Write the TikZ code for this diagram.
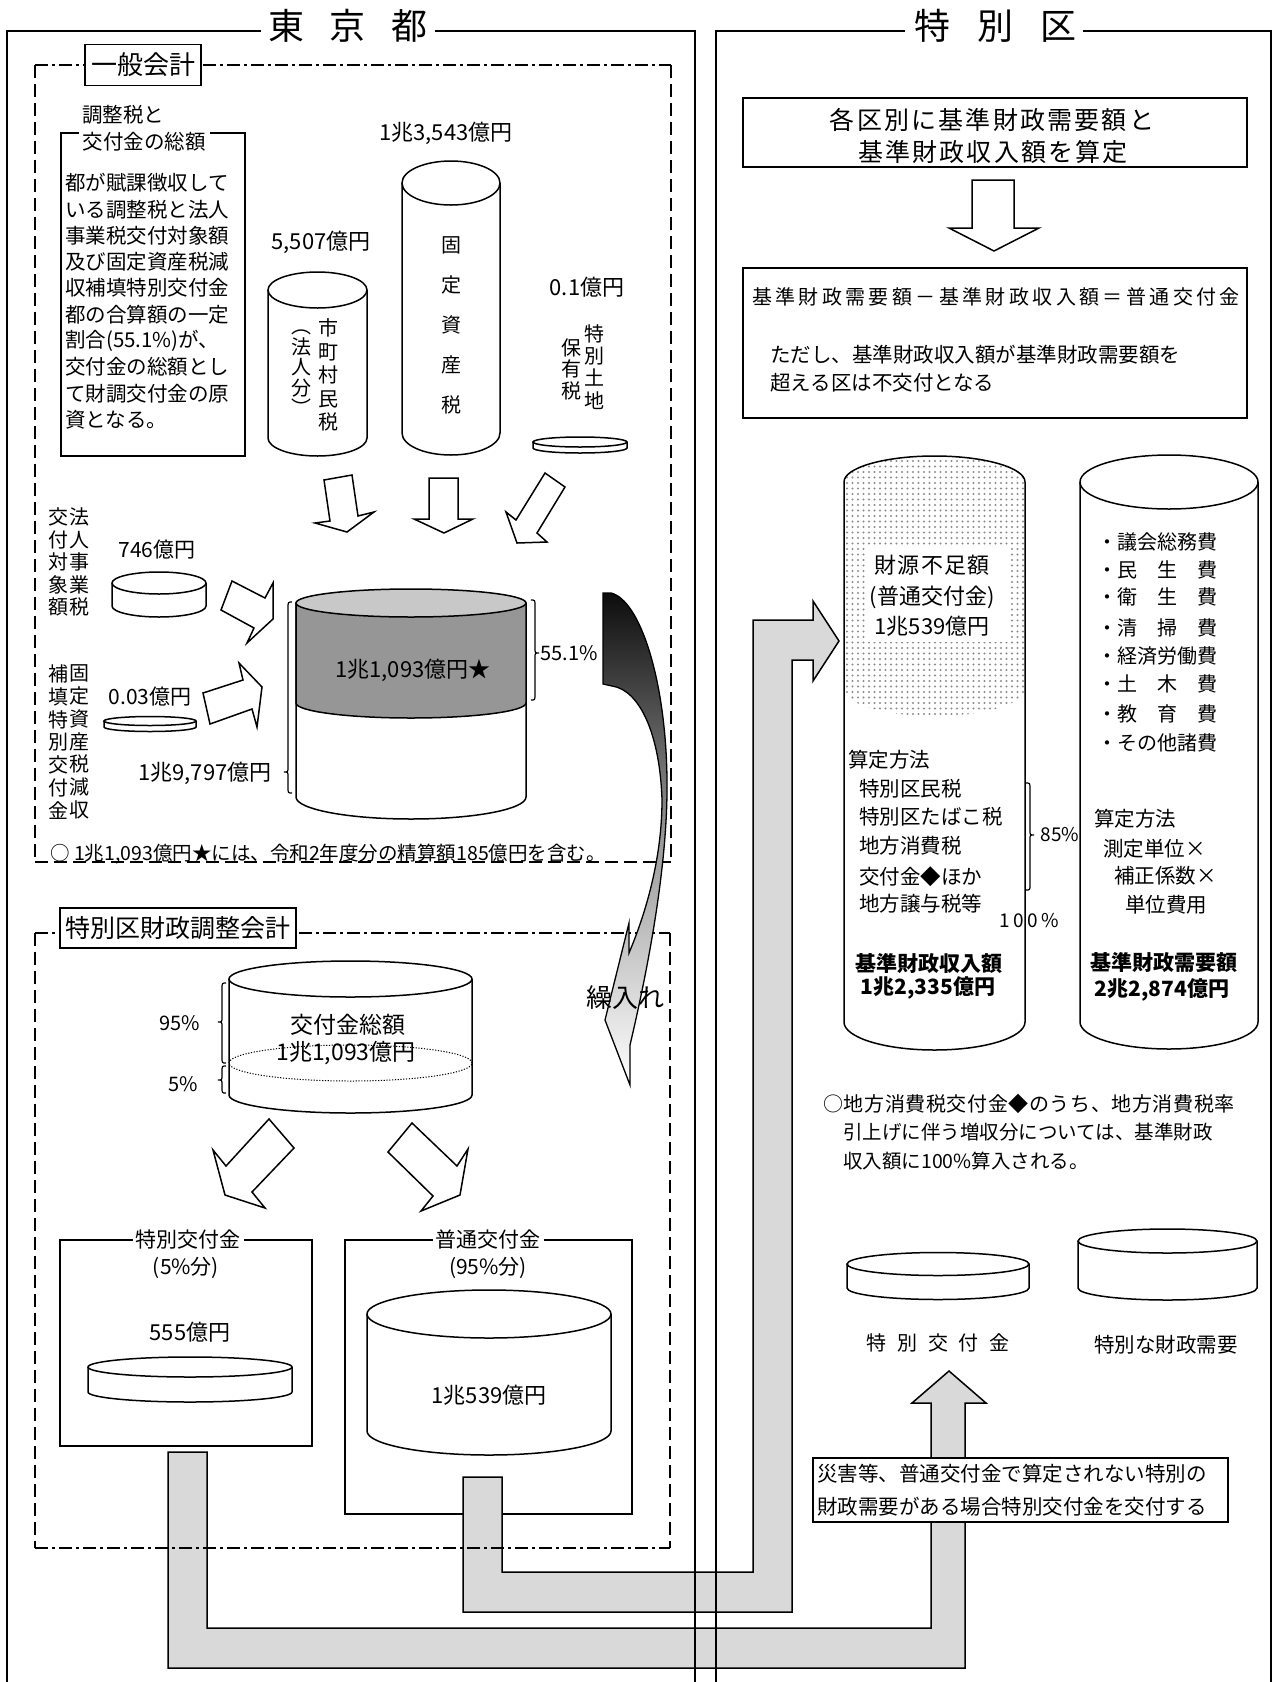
\documentclass[tikz,border=0pt]{standalone}
\usepackage{fontspec}
\setmainfont{Noto Sans CJK JP}
\usetikzlibrary{patterns.meta}
\newcommand\fz[1]{\fontsize{#1}{#1}\selectfont}
\def\lsp#1#2{\def\lspamt{#1}\lspx#2\relax}
\def\lspx#1{\ifx#1\relax\else#1\hspace{\lspamt}\expandafter\lspx\fi}
\definecolor{pathgray}{RGB}{217,217,217}
\definecolor{bandgray}{RGB}{150,150,150}
\definecolor{topgray}{RGB}{200,200,200}
\newcommand\brL[4]{\draw[brc] (#1,#2) .. controls (#1-4,#2) .. (#1-4,#2+6) -- (#1-4,#3-5) .. controls (#1-4,#3) .. (#1-8,#3) .. controls (#1-4,#3) .. (#1-4,#3+5) -- (#1-4,#4-6) .. controls (#1-4,#4) .. (#1,#4);}
\newcommand\brR[4]{\draw[brc] (#1,#2) .. controls (#1+4,#2) .. (#1+4,#2+6) -- (#1+4,#3-5) .. controls (#1+4,#3) .. (#1+8,#3) .. controls (#1+4,#3) .. (#1+4,#3+5) -- (#1+4,#4-6) .. controls (#1+4,#4) .. (#1,#4);}
\newcommand\cyl[5]{%
  \pgfmathsetmacro\cylrx{(#2-#1)/2}\pgfmathsetmacro\cylcx{(#1+#2)/2}%
  \draw[ln,fill=white] (#1,#3) -- (#1,#4) arc[start angle=180,end angle=360,x radius=\cylrx pt,y radius=#5pt] -- (#2,#3);
  \draw[ln,fill=white] (\cylcx,#3) ellipse[x radius=\cylrx pt,y radius=#5pt];}
\begin{document}
\begin{tikzpicture}[x=1pt,y=-1pt,line join=miter,
  ln/.style={line width=1.5pt},
  brc/.style={line width=1.2pt},
  outer/.style={line width=2.4pt},
  dd/.style={line width=1.8pt,dash pattern=on 13pt off 4pt on 3pt off 4pt},
  ds/.style={line width=1.8pt,dash pattern=on 13pt off 6pt},
  blk/.style={draw,line width=1.5pt,fill=white},
  gp/.style={draw,line width=1.5pt,fill=pathgray},
  tx/.style={inner sep=0pt},
  lbl/.style={draw,line width=1.6pt,fill=white,inner sep=0pt}]
\useasboundingbox (0,0) rectangle (1274,1682);
\fill[white] (0,0) rectangle (1274,1682);

% ---------- lower-left boxes (under the grey paths)
\draw[line width=1.8pt] (60,1240) rectangle (312,1446);
\draw[line width=1.8pt] (345,1240) rectangle (632,1514);
\node[tx,fill=white,inner xsep=3pt,font=\fz{21}] (tkt) at (188,1240) {特別交付金};
\node[tx,font=\fz{21}] (tkp) at (186,1268) {(5\%分)};
\node[tx,font=\fz{22}] (v555) at (190,1332) {555億円};
\cyl{88}{292}{1367}{1392}{10}
\node[tx,fill=white,inner xsep=3pt,font=\fz{21}] (fkt) at (488,1240) {普通交付金};
\node[tx,font=\fz{21}] (fkp) at (488,1268) {(95\%分)};
\cyl{367}{611}{1314}{1431}{24}
\node[tx,font=\fz{22}] (v539) at (489,1395) {1兆539億円};

% ---------- grey connectors
\draw[gp] (168,1452) -- (168,1668) -- (965,1668) -- (965,1403) -- (986,1403) -- (949,1371) -- (912,1403) -- (931,1403) -- (931,1628) -- (207,1628) -- (207,1452) -- cycle;
\draw[gp] (463,1477) -- (463,1612) -- (792,1612) -- (792,660) -- (813,660) -- (813,681) -- (839,641) -- (813,601) -- (813,620) -- (753,620) -- (753,1572) -- (502,1572) -- (502,1477) -- cycle;

% ---------- outer frames
\draw[outer] (261,31) -- (7,31) -- (7,1682);
\draw[outer] (435,31) -- (695,31) -- (695,1682);
\node[tx,font=\fz{36}] (tokyo) at (348,26) {東\hspace{26pt}京\hspace{26pt}都};
\draw[outer] (905,31) -- (716,31) -- (716,1682);
\draw[outer] (1083,31) -- (1271,31) -- (1271,1682);
\node[tx,font=\fz{36}] (ku) at (995,26) {特\hspace{27pt}別\hspace{27pt}区};

% ---------- dash boxes
\draw[dd] (35,65) -- (671,65);
\draw[ds] (35,65) -- (35,862);
\draw[ds] (671,65) -- (671,862);
\draw[ds] (35,862) -- (671,862);
\node[lbl,minimum width=116pt,minimum height=41pt,font=\fz{26}] (ippan) at (143,65) {一般会計};
\draw[dd] (35,933) -- (670,933);
\draw[ds] (35,933) -- (35,1548);
\draw[ds] (670,933) -- (670,1548);
\draw[dd] (35,1548) -- (670,1548);
\node[lbl,minimum width=236pt,minimum height=40pt,font=\fz{25}] (chosei) at (178,928) {特別区財政調整会計};

% ---------- general account, explanation box
\node[tx,font=\fz{20.5}] (chz) at (123,115) {調整税と};
\draw[line width=1.8pt] (61,133) rectangle (245,456);
\node[tx,fill=white,inner xsep=4pt,inner ysep=1pt,font=\fz{20.5}] (sogaku) at (144,142) {交付金の総額};
\node[tx,anchor=west,font=\fz{20.5}] (e0) at (65,183) {都が賦課徴収して};
\node[tx,anchor=west,font=\fz{20.5}] (e1) at (65,209.3) {いる調整税と法人};
\node[tx,anchor=west,font=\fz{20.5}] (e2) at (65,235.6) {事業税交付対象額};
\node[tx,anchor=west,font=\fz{20.5}] (e3) at (65,261.9) {及び固定資産税減};
\node[tx,anchor=west,font=\fz{20.5}] (e4) at (65,288.2) {収補填特別交付金};
\node[tx,anchor=west,font=\fz{20.5}] (e5) at (65,314.5) {都の合算額の一定};
\node[tx,anchor=west,font=\fz{20.5}] (e6) at (65,340.8) {割合(55.1\%)が、};
\node[tx,anchor=west,font=\fz{20.5}] (e7) at (65,367.1) {交付金の総額とし};
\node[tx,anchor=west,font=\fz{20.5}] (e8) at (65,393.4) {て財調交付金の原};
\node[tx,anchor=west,font=\fz{20.5}] (e9) at (65,419.7) {資となる。};

% ---------- tax cylinders
\node[tx,font=\fz{22}] (v5507) at (321,242) {5,507億円};
\cyl{268}{367}{290}{438}{18}
\node[tx,align=center,font=\fontsize{20}{23.5}\selectfont] (shi) at (328,375) {市\\町\\村\\民\\税};
\node[tx,align=center,font=\fontsize{20}{20.5}\selectfont] (hojin) at (301,373) {︵\\法\\人\\分\\︶};
\node[tx,font=\fz{22}] (v13543) at (446,133) {1兆3,543億円};
\cyl{402}{500}{183}{433}{22}
\node[tx,align=center,font=\fontsize{20}{40}\selectfont] (kotei) at (451,325) {固\\定\\資\\産\\税};
\node[tx,font=\fz{22}] (v01) at (587,287) {0.1億円};
\cyl{533}{627}{442}{448}{5}
\node[tx,align=center,font=\fontsize{20}{22.3}\selectfont] (tokuchi) at (594,367) {特\\別\\土\\地};
\node[tx,align=center,font=\fontsize{20}{21.5}\selectfont] (hoyu) at (571,369) {保\\有\\税};

% arrows down into the big cylinder
\draw[blk] (324,480) -- (352,475) -- (358,516) -- (374,512) -- (347,532) -- (315,523) -- (330,521) -- cycle;
\draw[blk] (429,478) -- (458,478) -- (458,519) -- (473,519) -- (444,533) -- (414,519) -- (429,519) -- cycle;
\draw[blk] (545,473) -- (565,487) -- (537,533) -- (547,542) -- (517,543) -- (506,512) -- (516,520) -- cycle;

% left side sources
\node[tx,align=center,font=\fontsize{20}{22.5}\selectfont] (hojinj) at (79,562) {法\\人\\事\\業\\税};
\node[tx,align=center,font=\fontsize{20}{22.5}\selectfont] (kofutai) at (58,562) {交\\付\\対\\象\\額};
\node[tx,font=\fz{21}] (v746) at (157,550) {746億円};
\cyl{112}{206}{583}{606}{11}
\draw[blk] (232,581) -- (265,598) -- (273,583) -- (273,619) -- (247,643) -- (254,628) -- (221,610) -- cycle;
\node[tx,align=center,font=\fontsize{20}{22.8}\selectfont] (koteig) at (79,742) {固\\定\\資\\産\\税\\減\\収};
\node[tx,align=center,font=\fontsize{20}{22.8}\selectfont] (hoten) at (58,742) {補\\填\\特\\別\\交\\付\\金};
\node[tx,font=\fz{21}] (v003) at (150,697) {0.03億円};
\cyl{104}{196}{721}{727}{4.5}
\draw[blk] (203,693) -- (243,680) -- (239,663) -- (262,687) -- (257,727) -- (252,709) -- (210,724) -- cycle;

% big cylinder
\draw[ln,fill=white] (296,603) -- (296,797) arc[start angle=180,end angle=360,x radius=115pt,y radius=22pt] -- (526,603);
\draw[ln,fill=bandgray] (296,603) -- (296,703) arc[start angle=180,end angle=360,x radius=115pt,y radius=15pt] -- (526,603) -- cycle;
\draw[ln,fill=topgray] (411,603) ellipse[x radius=115pt,y radius=14pt];
\node[tx,font=\fz{22}] (v11093) at (413,670) {1兆1,093億円★};
\brL{292}{602}{772}{793}
\node[tx,font=\fz{22}] (v19797) at (205,773) {1兆9,797億円};
\brR{531}{600}{653}{700}
\node[tx,font=\fz{20}] (p551) at (569,653) {55.1\%};
\node[tx,anchor=west,font=\fz{19.5}] (note1) at (50,854) {○ 1兆1,093億円★には、令和2年度分の精算額185億円を含む。};

% ---------- adjustment account
\cyl{229}{472}{979}{1095}{18}
\draw[line width=1pt,dash pattern=on 1.2pt off 1.6pt] (350.5,1063) ellipse[x radius=121.5pt,y radius=18pt];
\node[tx,font=\fz{23}] (kst) at (348,1025) {交付金総額};
\node[tx,font=\fz{23}] (kstv) at (346,1053) {1兆1,093億円};
\brL{226}{983}{1022}{1063}
\brL{226}{1066}{1080}{1093}
\node[tx,font=\fz{20}] (p95) at (180,1023) {95\%};
\node[tx,font=\fz{20}] (p5) at (183,1084) {5\%};
\draw[blk] (269,1119) -- (294,1148) -- (252,1192) -- (265,1208) -- (225,1195) -- (213,1150) -- (226,1166) -- cycle;
\draw[blk] (412,1123) -- (457,1166) -- (468,1149) -- (460,1195) -- (421,1211) -- (433,1196) -- (388,1152) -- cycle;

% ---------- curved transfer arrow
\path[draw,line width=1.3pt,top color=black!95,bottom color=white,middle color=black!40]
  (603,593) -- (611,593) .. controls (640,600) and (666,680) .. (667,780)
  .. controls (668,860) and (650,960) .. (630,1045) -- (630,1085) -- (605,1020) -- (629,923) -- (629,953)
  .. controls (645,915) and (662,860) .. (662,800) .. controls (660,735) and (640,690) .. (612,686) -- (603,684) -- cycle;
\node[tx,font=\fz{26}] (kuri) at (625,998) {繰入れ};

% ---------- special wards side
\draw[line width=1.8pt] (743,98) rectangle (1247,167);
\node[tx,font=\fz{25}] (r1a) at (992,120) {\lsp{2.2pt}{各区別に基準財政需要額と}};
\node[tx,font=\fz{25}] (r1b) at (993,152) {\lsp{2.2pt}{基準財政収入額を算定}};
\draw[blk] (972,180) -- (1014,180) -- (1014,228) -- (1039,228) -- (994,251) -- (949,228) -- (972,228) -- cycle;
\draw[line width=1.8pt] (743,268) rectangle (1247,418);
\node[tx,font=\fz{20}] (r2a) at (996,297) {\lsp{3.4pt}{基準財政需要額－基準財政収入額＝普通交付金}};
\node[tx,anchor=west,font=\fz{20.5}] (r2b) at (770,355) {ただし、基準財政収入額が基準財政需要額を};
\node[tx,anchor=west,font=\fz{20.5}] (r2c) at (770,383) {超える区は不交付となる};

% revenue cylinder
\draw[ln,fill=white] (844,482) -- (844,1022) arc[start angle=180,end angle=360,x radius=90.5pt,y radius=28pt] -- (1025,482);
\fill[pattern={Dots[distance=5.5pt,radius=1.1pt]},pattern color=black!45] (844,482) -- (844,689) arc[start angle=180,end angle=360,x radius=90.5pt,y radius=27pt] -- (1025,482) arc[start angle=0,end angle=180,x radius=90.5pt,y radius=26pt] -- cycle;
\draw[ln] (1025,482) arc[start angle=0,end angle=180,x radius=90.5pt,y radius=26pt];
\fill[white] (866,545) rectangle (1008,642);
\node[tx,font=\fz{22}] (fb1) at (932,565) {\lsp{1.2pt}{財源不足額}};
\node[tx,font=\fz{22}] (fb2) at (932,597) {(普通交付金)};
\node[tx,font=\fz{22}] (fb3) at (932,626) {1兆539億円};
\node[tx,anchor=west,font=\fz{20.5}] (sa) at (848,760) {算定方法};
\node[tx,anchor=west,font=\fz{20.5}] (sa1) at (859,789) {特別区民税};
\node[tx,anchor=west,font=\fz{20.5}] (sa2) at (859,817) {特別区たばこ税};
\node[tx,anchor=west,font=\fz{20.5}] (sa3) at (859,846) {地方消費税};
\node[tx,anchor=west,font=\fz{20.5}] (sa4) at (859,877) {交付金◆ほか};
\node[tx,anchor=west,font=\fz{20.5}] (sa5) at (859,904) {地方譲与税等};
\brR{1026}{783}{835}{890}
\node[tx,font=\fz{19}] (p85) at (1060,835) {85\%};
\node[tx,font=\fz{19}] (p100) at (1029,921) {\lsp{3.5pt}{100\%}};
\node[tx,font=\bfseries\fz{21}] (kzs) at (929,963) {基準財政収入額};
\node[tx,font=\bfseries\fz{21}] (kzsv) at (928,988) {1兆2,335億円};

% demand cylinder
\cyl{1080}{1258}{482}{1022}{27}
\node[tx,anchor=west,font=\fz{20}] (d1) at (1097,542) {・議会総務費};
\node[tx,anchor=west,font=\fz{20}] (d2) at (1097,570) {・民　生　費};
\node[tx,anchor=west,font=\fz{20}] (d3) at (1097,597) {・衛　生　費};
\node[tx,anchor=west,font=\fz{20}] (d4) at (1097,628) {・清　掃　費};
\node[tx,anchor=west,font=\fz{20}] (d5) at (1097,656) {・経済労働費};
\node[tx,anchor=west,font=\fz{20}] (d6) at (1097,684) {・土　木　費};
\node[tx,anchor=west,font=\fz{20}] (d7) at (1097,714) {・教　育　費};
\node[tx,anchor=west,font=\fz{20}] (d8) at (1097,743) {・その他諸費};
\node[tx,anchor=west,font=\fz{20.5}] (sb) at (1094,819) {算定方法};
\node[tx,anchor=west,font=\fz{20.5}] (sb1) at (1103,849) {測定単位×};
\node[tx,anchor=west,font=\fz{20.5}] (sb2) at (1114,876) {補正係数×};
\node[tx,anchor=west,font=\fz{20.5}] (sb3) at (1125,905) {単位費用};
\node[tx,font=\bfseries\fz{21}] (kzj) at (1164,963) {基準財政需要額};
\node[tx,font=\bfseries\fz{21}] (kzjv) at (1162,990) {2兆2,874億円};

% note
\node[tx,anchor=west,font=\fz{20}] (n1) at (823,1104) {\lsp{0.6pt}{○地方消費税交付金◆のうち、地方消費税率}};
\node[tx,anchor=west,font=\fz{19.5}] (n2) at (843,1132) {引上げに伴う増収分については、基準財政};
\node[tx,anchor=west,font=\fz{19.5}] (n3) at (843,1161) {収入額に100\%算入される。};

% special grant discs
\cyl{847}{1029}{1264}{1288}{11.5}
\cyl{1078}{1257}{1241}{1288}{12}
\node[tx,font=\fz{20}] (tk2) at (938,1343) {\lsp{10.7pt}{特別交付金}};
\node[tx,font=\fz{20.5}] (tz) at (1166,1345) {特別な財政需要};

% disaster note box
\node[lbl,minimum width=415pt,minimum height=64pt] (saigai) at (1020.5,1490) {};
\node[tx,anchor=west,font=\fz{20.5}] (sg1) at (817,1474) {災害等、普通交付金で算定されない特別の};
\node[tx,anchor=west,font=\fz{20.5}] (sg2) at (817,1507) {財政需要がある場合特別交付金を交付する};
\end{tikzpicture}
\end{document}
